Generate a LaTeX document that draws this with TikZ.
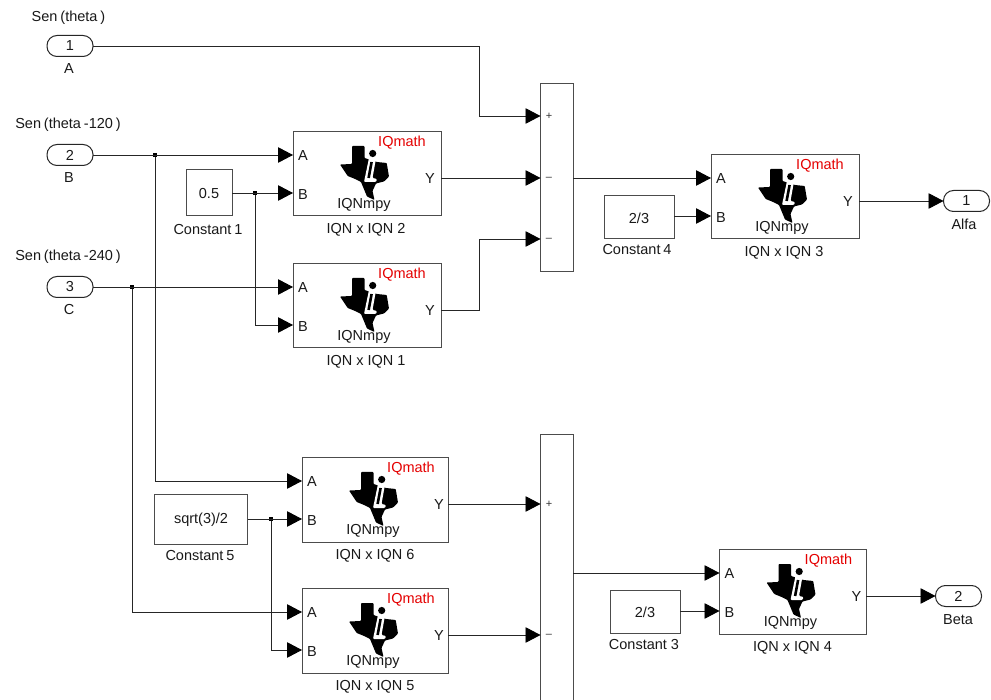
\documentclass[tikz,border=0pt]{standalone}
\usepackage{fontspec}
\setmainfont{Liberation Sans}
\usetikzlibrary{arrows.meta}
\newcommand{\ts}{\hspace{0.2em}}
\tikzset{
  wire/.style={line width=0.9pt,draw=black!85},
  arrowwire/.style={wire,-{Triangle[length=15pt,width=15.5pt,color=black]}},
  blockbox/.style={draw=black!70,line width=1pt,fill=white,anchor=north west,inner sep=0pt,outer sep=0pt,minimum height=84.5pt},
  portbox/.style={draw=black!85,line width=1pt,fill=white,rounded corners=10pt,inner sep=0pt,outer sep=0pt,minimum height=21pt,minimum width=46pt,font=\fontsize{14.5}{16}\selectfont,text=black!90},
  txt/.style={inner sep=0pt,outer sep=0pt,yshift=-0.8pt,font=\fontsize{14.5}{16}\selectfont,text=black!90},
  redtxt/.style={txt,text=red!90!black},
  signtxt/.style={inner sep=0pt,outer sep=0pt,yshift=-0.8pt,font=\fontsize{11}{12}\selectfont,text=black!80},
  junction/.style={fill=black,inner sep=0pt,outer sep=0pt,minimum size=3.5pt,draw=none},
}
% name, x, y, width, label
\newcommand{\iqblock}[5]{%
  \begin{scope}[shift={(#2,#3)}]
    \node[blockbox,minimum width=#4pt] (#1) at (0,0.5) {};
    \fill[black,rounded corners=0.8pt] (59,15) -- (71.5,15) -- (71.5,27) -- (76,28.5) -- (84,31) -- (93.7,32) -- (96,45.5) -- (91,50.5)
      -- (83,52.5) -- (79.5,60) -- (81.5,69) -- (74,65.5) -- (68,51) -- (61,47.5) -- (54.7,45) -- (47,33.5) -- (59,33) -- cycle;
    \fill[white,rounded corners=1pt] (76,27) -- (83,27.5) -- (79.5,47) -- (84,48) -- (83,51) -- (71,51) -- cycle;
    \draw[black,line width=2.6pt] (78.6,31) -- (75.6,47);
    \fill[white] (79.7,22.5) circle (5pt);
    \fill[black] (79.7,22.5) circle (3.6pt);
    \node[redtxt] (#1m) at (109,11) {IQmath};
    \node[txt] (#1n) at (71,73) {IQNmpy};
    \node[txt] (#1a) at (10,24) {A};
    \node[txt] (#1b) at (10,62.5) {B};
    \node[txt] (#1y) at (137,47) {Y};
    \node[txt] (#1l) at (73,98) {#5};
    \coordinate (#1A) at (0,24);
    \coordinate (#1B) at (0,62);
    \coordinate (#1Y) at (#4,47);
  \end{scope}}
\begin{document}
\begin{tikzpicture}[x=1pt,y=-1pt]
\useasboundingbox (0,0) rectangle (991,700);
\clip (0,0) rectangle (991,700);
\fill[white] (0,0) rectangle (991,700);

% input ports
\node[portbox] (p1) at (70,46) {1};
\node[portbox] (p2) at (70,155) {2};
\node[portbox] (p3) at (70,287) {3};
\node[txt] (t1) at (68.5,17) {Sen\ts (theta\ts )};
\node[txt] (t2) at (68,124) {Sen\ts (theta\ts -120\ts )};
\node[txt] (t3) at (68,256) {Sen\ts (theta\ts -240\ts )};
\node[txt] (l1) at (69,68) {A};
\node[txt] (l2) at (69,177) {B};
\node[txt] (l3) at (69,309) {C};

% output ports
\node[portbox] (o1) at (966.5,201) {1};
\node[portbox] (o2) at (958.5,596) {2};
\node[txt] (lo1) at (964,224) {Alfa};
\node[txt] (lo2) at (958,619) {Beta};

% blocks
\iqblock{bb}{293}{131}{148}{IQN x IQN 2}
\iqblock{ba}{293}{263}{148}{IQN x IQN 1}
\iqblock{bc}{711}{154}{148}{IQN x IQN 3}
\iqblock{bf}{302}{457}{146}{IQN x IQN 6}
\iqblock{be}{302}{588}{146}{IQN x IQN 5}
\iqblock{bd}{719.5}{549}{146.5}{IQN x IQN 4}

% constants
\node[blockbox,minimum width=46pt,minimum height=46pt] (c1) at (186,170) {};
\node[txt] at (c1.center) (c1t) {0.5};
\node[txt] (c1l) at (208,229) {Constant\ts 1};
\node[blockbox,minimum width=70pt,minimum height=43pt] (c4) at (604,196) {};
\node[txt] at (c4.center) (c4t) {2/3};
\node[txt] (c4l) at (637,249) {Constant\ts 4};
\node[blockbox,minimum width=93pt,minimum height=50pt] (c5) at (154.5,494) {};
\node[txt] at (c5.center) (c5t) {sqrt(3)/2};
\node[txt] (c5l) at (200,555) {Constant\ts 5};
\node[blockbox,minimum width=70pt,minimum height=43pt] (c3) at (610,590.5) {};
\node[txt] at (c3.center) (c3t) {2/3};
\node[txt] (c3l) at (644,644) {Constant 3};

% sum blocks
\node[blockbox,minimum width=32.5pt,minimum height=188pt] (s1) at (540.5,84) {};
\node[blockbox,minimum width=32.5pt,minimum height=300pt] (s2) at (540.5,435) {};
\node[signtxt] (s1p) at (549,116) {+};
\node[signtxt] (s1m) at (549,178) {–};
\node[signtxt] (s1n) at (549,239) {–};
\node[signtxt] (s2p) at (549,504) {+};
\node[signtxt] (s2m) at (549,635) {–};
\coordinate (s1a) at (540.5,116);
\coordinate (s1b) at (540.5,178);
\coordinate (s1c) at (540.5,239);
\coordinate (s1o) at (573,178);
\coordinate (s2a) at (540.5,504);
\coordinate (s2b) at (540.5,635);
\coordinate (s2o) at (573,573);

% routing points
\coordinate (r1) at (479,46);
\coordinate (r2) at (479,310);
\node[junction] (j2) at (155,155) {};
\node[junction] (j3) at (132,287) {};
\node[junction] (jc1) at (255,193) {};
\node[junction] (jc5) at (271,519) {};

% connectors
\draw[arrowwire] (p1.east) -- (r1) |- (s1a);
\draw[arrowwire] (p2.east) -- (bbA);
\draw[arrowwire] (p3.east) -- (baA);
\draw[arrowwire] (j2) |- (bfA);
\draw[arrowwire] (j3) |- (beA);
\draw[arrowwire] (c1.east |- bbB) -- (bbB);
\draw[arrowwire] (jc1) |- (baB);
\draw[arrowwire] (bbY) -- (s1b);
\draw[arrowwire] (baY) -- (r2) |- (s1c);
\draw[arrowwire] (s1o) -- (bcA);
\draw[arrowwire] (c4.east |- bcB) -- (bcB);
\draw[arrowwire] (bcY) -- (o1.west);
\draw[arrowwire] (c5.east |- bfB) -- (bfB);
\draw[arrowwire] (jc5) |- (beB);
\draw[arrowwire] (bfY) -- (s2a);
\draw[arrowwire] (beY) -- (s2b);
\draw[arrowwire] (s2o) -- (bdA);
\draw[arrowwire] (c3.east |- bdB) -- (bdB);
\draw[arrowwire] (bdY) -- (o2.west);
\end{tikzpicture}
\end{document}
